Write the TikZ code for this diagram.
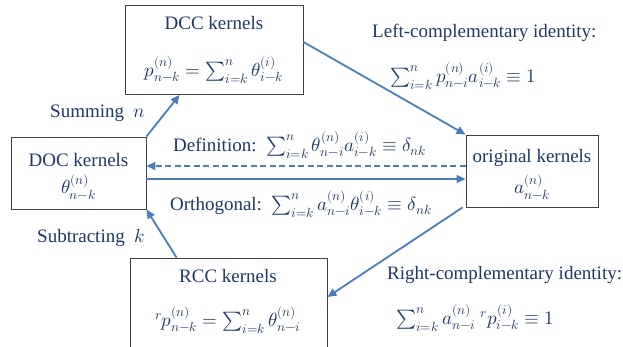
\documentclass[tikz,border=0pt]{standalone}
\usepackage{fontspec}
\usepackage{unicode-math}
\setmainfont{Liberation Serif}
\setmathfont{Latin Modern Math}
\usetikzlibrary{arrows.meta}
\definecolor{txtc}{RGB}{31,56,100}
\definecolor{arrc}{RGB}{74,126,187}
\definecolor{boxc}{RGB}{64,64,64}
\begin{document}
\begin{tikzpicture}[x=1pt,y=-1pt,
  every node/.style={font=\fontsize{19}{22}\selectfont, text=txtc, inner sep=0pt},
  kbox/.style={draw=boxc, line width=0.9pt, rectangle},
  conn/.style={draw=arrc, line width=1.8pt, -{Triangle[length=9pt,width=8pt]}},
  dconn/.style={conn, dashed, dash pattern=on 6pt off 3.5pt}]
\useasboundingbox (0,0) rectangle (623,347);
\fill[white] (0,0) rectangle (623,347);
% boxes
\node[kbox, minimum width=178pt, minimum height=89pt] (dcc) at (214,50) {};
\node[kbox, minimum width=135pt, minimum height=72pt] (doc) at (78.5,173) {};
\node[kbox, minimum width=132pt, minimum height=72pt] (orig) at (532,171) {};
\begin{scope}
\clip (0,0) rectangle (623,347);
\node[kbox, minimum width=197pt, minimum height=96pt] (rcc) at (228.5,306) {};
\end{scope}
% box texts
\node (dcct) at (214,23) {DCC kernels};
\node (dccf) at (214,70) {$p_{n-k}^{(n)}=\textstyle\sum_{i=k}^{n}\theta_{i-k}^{(i)}$};
\node (doct) at (78.5,160) {DOC kernels};
\node (docf) at (78.5,187) {$\theta_{n-k}^{(n)}$};
\node (origt) at (532,158) {original kernels};
\node (origf) at (532,187) {$a_{n-k}^{(n)}$};
\node (rcct) at (228,276) {RCC kernels};
\node (rccf) at (228,320) {${}^{r}p_{n-k}^{(n)}=\textstyle\sum_{i=k}^{n}\theta_{n-i}^{(n)}$};
% labels
\node[anchor=west] (sum) at (50,113) {Summing\ \ $n$};
\node[anchor=west] (sub) at (37,238) {Subtracting\ \ $k$};
\node[anchor=west] (defl) at (173,145) {Definition:\ \ $\textstyle\sum_{i=k}^{n}\theta_{n-i}^{(n)}a_{i-k}^{(i)}\equiv\delta_{nk}$};
\node[anchor=west] (orthl) at (170,204) {Orthogonal:\ \ $\textstyle\sum_{i=k}^{n}a_{n-i}^{(n)}\theta_{i-k}^{(i)}\equiv\delta_{nk}$};
\node[anchor=west] (lct) at (372,33) {Left-complementary identity:};
\node[anchor=west] (lcf) at (390,76) {$\textstyle\sum_{i=k}^{n}p_{n-i}^{(n)}a_{i-k}^{(i)}\equiv 1$};
\node[anchor=west] (rct) at (387,275) {Right-complementary identity:};
\node[anchor=west] (rcf) at (396,318) {$\textstyle\sum_{i=k}^{n}a_{n-i}^{(n)}\;{}^{r}p_{i-k}^{(i)}\equiv 1$};
% connectors
\draw[conn] (doc.north east) -- ([xshift=55pt]dcc.south west);
\draw[conn] ([yshift=8pt]dcc.east) -- (orig.north west);
\draw[dconn] ([yshift=5pt]orig.west) -- ([yshift=7pt]doc.east);
\draw[conn] ([yshift=-6pt]doc.east) -- ([yshift=-8pt]orig.west);
\draw[conn] ([xshift=-3pt]orig.south west) -- ([yshift=9pt]rcc.east);
\draw[conn] ([xshift=47pt]rcc.north west) -- (doc.south east);
\end{tikzpicture}
\end{document}
